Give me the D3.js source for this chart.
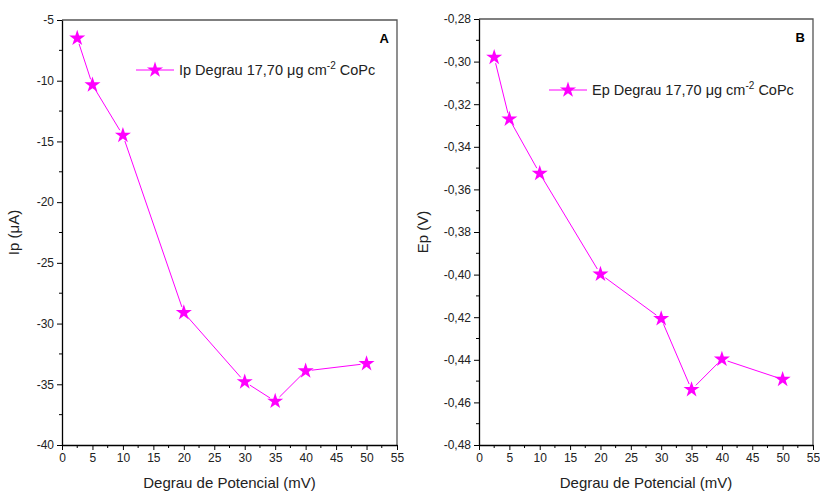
<!DOCTYPE html>
<html><head><meta charset="utf-8">
<script src="https://cdn.jsdelivr.net/npm/d3@7"></script>
<style>body{margin:0;background:#fff}svg{display:block;font-family:"Liberation Sans",Arial,sans-serif}</style>
</head><body><svg id="c" width="820" height="493"></svg>
<script>
const steps = [2.5, 5, 10, 20, 30, 35, 40, 50];
const ipValues = [-6.5, -10.35, -14.5, -29.1, -34.8, -36.4, -33.9, -33.3];
const epValues = [-0.298, -0.327, -0.3525, -0.3998, -0.4207, -0.4540, -0.4397, -0.4492];
const xTicks = [0,5,10,15,20,25,30,35,40,45,50,55];
const ipTicks = [-40,-35,-30,-25,-20,-15,-10,-5];
const epTicks = [-0.48,-0.46,-0.44,-0.42,-0.40,-0.38,-0.36,-0.34,-0.32,-0.30,-0.28];
const xLabel = "Degrau de Potencial (mV)";
const color = "#ff00ff";

const svg = d3.select("#c");
const star = d3.symbol().type(d3.symbolStar).size(80);

function panel(o){
  const g = svg.append("g");
  const x = d3.scaleLinear().domain([0,55]).range([o.x0,o.x1]);
  const y = d3.scaleLinear().domain(o.ydom).range([o.y1,o.y0]);
  g.append("path").attr("d",`M${o.x0},${o.y0}H${o.x1}V${o.y1}`).attr("fill","none").attr("stroke","#555").attr("stroke-width",1.3);
  const xMinor = d3.range(0,56,2.5).filter(v=>v%5!==0);
  g.selectAll(".xm").data(xMinor).join("line").attr("x1",d=>x(d)).attr("x2",d=>x(d)).attr("y1",o.y1).attr("y2",o.y1+3).attr("stroke","#000");
  const yt = o.ticks;
  const yMinor = d3.range(yt.length-1).map(i=>(yt[i]+yt[i+1])/2);
  g.selectAll(".ym").data(yMinor).join("line").attr("x1",o.x0-3).attr("x2",o.x0).attr("y1",d=>y(d)).attr("y2",d=>y(d)).attr("stroke","#000");
  const xa = g.append("g").attr("transform",`translate(0,${o.y1})`).call(d3.axisBottom(x).tickValues(xTicks).tickSize(5).tickSizeOuter(0).tickPadding(3));
  const ya = g.append("g").attr("transform",`translate(${o.x0},0)`).call(d3.axisLeft(y).tickValues(yt).tickFormat(o.fmt).tickSize(5).tickSizeOuter(0).tickPadding(3));
  [xa,ya].forEach(a=>{a.select(".domain").attr("stroke","#000").attr("stroke-width",1.3);a.selectAll("text").attr("font-size",12).attr("fill","#222").attr("font-family","Liberation Sans, Arial, sans-serif");});
  g.append("text").attr("x",(o.x0+o.x1)/2).attr("y",488).attr("text-anchor","middle").attr("font-size",15).attr("fill","#222").text(xLabel);
  g.append("text").attr("transform",`translate(${o.ylx},${(o.y0+o.y1)/2}) rotate(-90)`).attr("text-anchor","middle").attr("font-size",15).attr("fill","#222").text(o.ylabel);
  const pts = steps.map((s,i)=>[x(s),y(o.vals[i])]);
  const segs = [];
  for(let i=0;i<pts.length-1;i++){
    const [ax,ay]=pts[i],[bx,by]=pts[i+1];const dx=bx-ax,dy=by-ay,L=Math.hypot(dx,dy),gap=6;
    segs.push([ax+dx/L*gap,ay+dy/L*gap,bx-dx/L*gap,by-dy/L*gap]);
  }
  g.selectAll(".seg").data(segs).join("line").attr("x1",d=>d[0]).attr("y1",d=>d[1]).attr("x2",d=>d[2]).attr("y2",d=>d[3]).attr("stroke",color).attr("stroke-width",1);
  g.selectAll(".pt").data(pts).join("path").attr("d",star).attr("transform",d=>`translate(${d[0]},${d[1]})`).attr("fill",color);
  g.append("line").attr("x1",o.lx).attr("x2",o.lx+38).attr("y1",o.ly).attr("y2",o.ly).attr("stroke",color);
  g.append("path").attr("d",star).attr("transform",`translate(${o.lx+19},${o.ly})`).attr("fill",color);
  const t = g.append("text").attr("x",o.lx+43).attr("y",o.ly+5).attr("font-size",14.5).attr("fill","#222");
  t.append("tspan").text(o.lname+" Degrau 17,70 \u03bcg cm");
  t.append("tspan").attr("dy",-6).attr("font-size",10).text("-2");
  t.append("tspan").attr("dy",6).text(" CoPc");
  g.append("text").attr("x",o.x1-8).attr("y",o.y0+23).attr("text-anchor","end").attr("font-weight","bold").attr("font-size",13).attr("fill","#000").text(o.tag);
}
const fmtComma = d=>d3.format(".2f")(d).replace(".",",").replace("\u2212","-");
panel({x0:62,x1:397,y0:20,y1:445,ydom:[-40,-5],ticks:ipTicks,fmt:d=>String(d),vals:ipValues,ylabel:"Ip (\u03bcA)",ylx:19,lx:136,ly:70,lname:"Ip",tag:"A"});
panel({x0:479,x1:813,y0:19,y1:445,ydom:[-0.48,-0.28],ticks:epTicks,fmt:fmtComma,vals:epValues,ylabel:"Ep (V)",ylx:428,lx:549,ly:90,lname:"Ep",tag:"B"});
</script></body></html>
